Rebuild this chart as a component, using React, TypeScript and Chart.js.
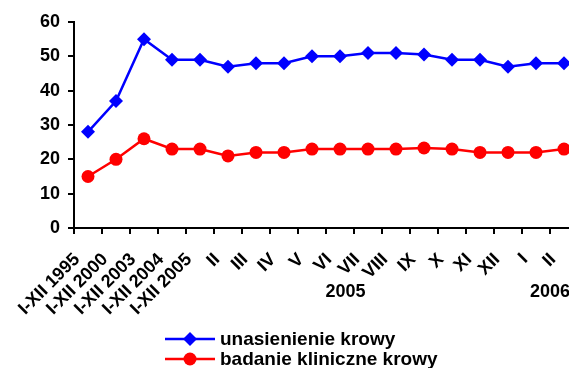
import React, { useEffect, useRef } from 'react';
import { Chart, registerables } from 'chart.js';

Chart.register(...registerables);

const categories = ['I-XII 1995', 'I-XII 2000', 'I-XII 2003', 'I-XII 2004', 'I-XII 2005', 'II', 'III', 'IV', 'V', 'VI', 'VII', 'VIII', 'IX', 'X', 'XI', 'XII', 'I', 'II'];
const inseminationValues = [28, 37, 55, 49, 49, 47, 48, 48, 50, 50, 51, 51, 50.5, 49, 49, 47, 48, 48];
const clinicalValues = [15, 20, 26, 23, 23, 21, 22, 22, 23, 23, 23, 23, 23.3, 23, 22, 22, 22, 23];
const seriesLabels = ['unasienienie krowy', 'badanie kliniczne krowy'];
const yearLabels = ['2005', '2006'];
const yearPositions = [9.2, 16.5];
const yMin = 0;
const yMax = 60;
const yStep = 10;

const FONT = '"Liberation Sans", Arial, sans-serif';
const BLUE = '#0000FF';
const RED = '#FF0000';

const extrasPlugin = {
  id: 'extras',
  afterDraw(chart: any) {
    const ctx = chart.ctx as CanvasRenderingContext2D;
    const xs = chart.scales.x;
    const bottom = chart.chartArea.bottom;
    ctx.save();
    ctx.fillStyle = '#000';
    ctx.font = `bold 18px ${FONT}`;
    ctx.textAlign = 'center';
    ctx.textBaseline = 'middle';
    yearLabels.forEach((t, i) => {
      ctx.fillText(t, xs.getPixelForValue(yearPositions[i]), bottom + 64);
    });
    // legend
    const lx = 165;
    const rows = [bottom + 111, bottom + 131];
    chart.data.datasets.forEach((ds: any, i: number) => {
      const y = rows[i];
      ctx.strokeStyle = ds.borderColor;
      ctx.lineWidth = 2.5;
      ctx.beginPath();
      ctx.moveTo(lx, y);
      ctx.lineTo(lx + 50, y);
      ctx.stroke();
      ctx.fillStyle = ds.backgroundColor;
      const cx = lx + 25;
      const r = ds.pointRadius;
      ctx.beginPath();
      if (ds.pointStyle === 'rectRot') {
        ctx.moveTo(cx, y - r);
        ctx.lineTo(cx + r, y);
        ctx.lineTo(cx, y + r);
        ctx.lineTo(cx - r, y);
        ctx.closePath();
      } else {
        ctx.arc(cx, y, r, 0, Math.PI * 2);
      }
      ctx.fill();
      ctx.fillStyle = '#000';
      ctx.textAlign = 'left';
      ctx.font = `bold 19px ${FONT}`;
      ctx.fillText(ds.label, lx + 55, y + 1);
    });
    ctx.restore();
  },
};

export default function App() {
  const ref = useRef<HTMLCanvasElement | null>(null);
  useEffect(() => {
    if (!ref.current) return;
    const chart = new Chart(ref.current, {
      type: 'line',
      data: {
        labels: categories,
        datasets: [
          {
            label: seriesLabels[0],
            data: inseminationValues,
            borderColor: BLUE,
            backgroundColor: BLUE,
            borderWidth: 2.5,
            pointStyle: 'rectRot',
            pointRadius: 7,
            pointBorderWidth: 0,
            tension: 0,
          },
          {
            label: seriesLabels[1],
            data: clinicalValues,
            borderColor: RED,
            backgroundColor: RED,
            borderWidth: 2.5,
            pointStyle: 'circle',
            pointRadius: 6.5,
            pointBorderWidth: 0,
            tension: 0,
          },
        ],
      },
      options: {
        responsive: false,
        animation: false,
        layout: { padding: { top: 22, left: 0, right: 0, bottom: 0 } },
        plugins: { legend: { display: false }, tooltip: { enabled: false } },
        scales: {
          x: {
            offset: true,
            grid: { offset: true, drawOnChartArea: false, tickLength: 6, color: '#000', lineWidth: 2 },
            border: { color: '#000', width: 2 },
            ticks: { color: '#000', font: { family: FONT, size: 18, weight: 'bold' }, maxRotation: 45, minRotation: 45, autoSkip: false, padding: 15, labelOffset: -11 },
            afterFit: (s: any) => { s.height = 140; s.paddingLeft = 0; s.paddingRight = 0; },
          },
          y: {
            min: yMin,
            max: yMax,
            ticks: { stepSize: yStep, color: '#000', font: { family: FONT, size: 18, weight: 'bold' }, padding: 8 },
            grid: { drawOnChartArea: false, tickLength: 6, color: '#000', lineWidth: 2 },
            border: { color: '#000', width: 2 },
            afterFit: (s: any) => { s.width = 74; },
          },
        },
      },
      plugins: [extrasPlugin],
    } as any);
    return () => chart.destroy();
  }, []);
  return (
    <div style={{ position: 'absolute', left: 0, top: 0, width: 569, height: 368, overflow: 'hidden', background: '#fff' }}>
      <canvas ref={ref} width={585} height={368} style={{ display: 'block' }} />
    </div>
  );
}
